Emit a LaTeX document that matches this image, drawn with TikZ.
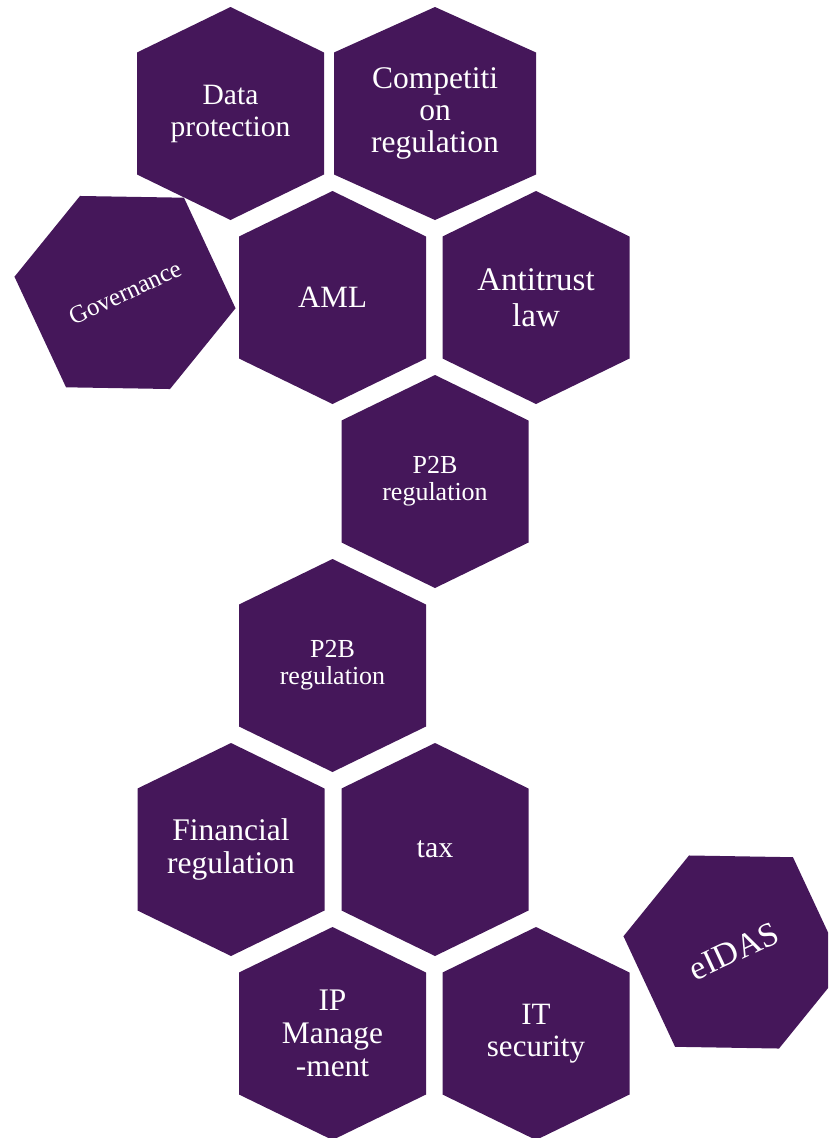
\documentclass[tikz,border=0pt]{standalone}
\usepackage{fontspec}
\setmainfont{Liberation Serif}
\definecolor{hexpurple}{HTML}{45175A}
\tikzset{
  hexfill/.style={fill=hexpurple},
  hexlabel/.style={text=white, align=center, inner sep=0pt}
}
% #1 cx, #2 cy (pixels from top), #3 half width, #4 rotation
\newcommand{\HexCell}[4]{%
  \begin{scope}[shift={(#1,-#2)}, rotate=#4]
    \fill[hexfill] (0,106.5) -- (#3,61) -- (#3,-61) -- (0,-106.5) -- (-#3,-61) -- (-#3,61) -- cycle;
  \end{scope}}
\begin{document}
\begin{tikzpicture}[x=1pt,y=1pt]
\useasboundingbox (0,0) rectangle (828,-1138);
\clip (0,0) rectangle (828,-1138);
% hexagons
\HexCell{230.5}{113.5}{93.5}{0}
\HexCell{435}{113.5}{101}{0}
\HexCell{125}{292.5}{93.5}{25}
\HexCell{332.5}{297.5}{93.5}{0}
\HexCell{536}{297.5}{93.5}{0}
\HexCell{435}{481.5}{93.5}{0}
\HexCell{332.5}{665.5}{93.5}{0}
\HexCell{231}{849.5}{93.5}{0}
\HexCell{435}{849.5}{93.5}{0}
\HexCell{734}{952}{93.5}{25}
\HexCell{332.5}{1033.5}{93.5}{0}
\HexCell{536}{1033.5}{93.5}{0}
% labels
\node[hexlabel, font=\fontsize{29.5}{32}\selectfont] (dataprot) at (230.5,-113.5) {Data\\protection};
\node[hexlabel, font=\fontsize{31.5}{32}\selectfont] (compreg) at (435,-113.5) {Competiti\\on\\regulation};
\node[hexlabel, rotate=25, font=\fontsize{25}{28}\selectfont] (gov) at (125,-292.5) {Governance};
\node[hexlabel, font=\fontsize{31}{34}\selectfont] (aml) at (332.5,-297.5) {AML};
\node[hexlabel, font=\fontsize{33}{36}\selectfont] (antitrust) at (536,-297.5) {Antitrust\\law};
\node[hexlabel, font=\fontsize{26}{27}\selectfont] (ptwob) at (435,-481.5) {P2B\\regulation};
\node[hexlabel, font=\fontsize{26}{27}\selectfont] (ptwobb) at (332.5,-665.5) {P2B\\regulation};
\node[hexlabel, font=\fontsize{31.5}{32.5}\selectfont] (finreg) at (231,-849.5) {Financial\\regulation};
\node[hexlabel, font=\fontsize{30}{32}\selectfont] (tax) at (435,-849.5) {tax};
\node[hexlabel, rotate=25, font=\fontsize{34}{36}\selectfont] (eidas) at (734,-951) {eIDAS};
\node[hexlabel, font=\fontsize{31.4}{33}\selectfont] (ipman) at (332.5,-1033.5) {IP\\Manage\\-ment};
\node[hexlabel, font=\fontsize{31}{31.5}\selectfont] (itsec) at (536,-1033.5) {IT\\security};
\end{tikzpicture}
\end{document}
